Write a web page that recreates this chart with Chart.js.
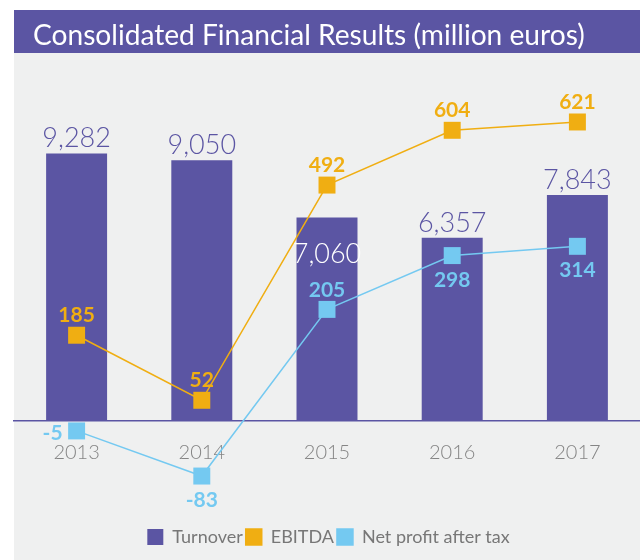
<!DOCTYPE html>
<html><head><meta charset="utf-8">
<script src="https://cdn.jsdelivr.net/npm/chart.js@4.4.1/dist/chart.umd.min.js"></script>
<style>html,body{margin:0;padding:0;background:#fff}#wrap{width:640px;height:560px;position:relative}canvas{display:block}</style>
</head><body><div id="wrap"><canvas id="c" width="640" height="560"></canvas></div>
<script>
const chartTitle = 'Consolidated Financial Results (million euros)';
const years = ['2013', '2014', '2015', '2016', '2017'];
const seriesNames = ['Turnover', 'EBITDA', 'Net profit after tax'];
const turnover = [9282, 9050, 7060, 6357, 7843];
const ebitda = [185, 52, 492, 604, 621];
const netProfit = [-5, -83, 205, 298, 314];

const PURPLE = '#5B55A3';
const ORANGE = '#F0AE12';
const BLUE = '#74C9F1';
const BG = '#EFF0F0';
const FONT = 'Lato, "Open Sans", sans-serif';

function fmt(v) { return String(v).replace(/\B(?=(\d{3})+(?!\d))/g, ','); }

// label placement styles (not data)
const barLabelInside = [false, false, true, false, false];
const netLabelPos = ['left', 'below', 'above', 'below', 'below'];

const backgroundPlugin = {
  id: 'bgTitle',
  beforeDraw(chart) {
    const ctx = chart.ctx;
    ctx.save();
    ctx.fillStyle = '#ffffff';
    ctx.fillRect(0, 0, chart.width, chart.height);
    ctx.fillStyle = BG;
    ctx.fillRect(14, 53, chart.width - 14, chart.height - 53);
    ctx.fillStyle = PURPLE;
    ctx.fillRect(14, 10, chart.width - 14, 43);
    let size = 28;
    ctx.font = size + 'px ' + FONT;
    const w = ctx.measureText(chartTitle).width;
    size = Math.min(32, size * 552 / w);
    ctx.font = size + 'px ' + FONT;
    ctx.fillStyle = '#ffffff';
    ctx.textAlign = 'left';
    ctx.textBaseline = 'alphabetic';
    ctx.fillText(chartTitle, 33, 45);
    ctx.restore();
  }
};

const labelPlugin = {
  id: 'valueLabels',
  afterDatasetsDraw(chart) {
    const ctx = chart.ctx;
    ctx.save();
    ctx.textAlign = 'center';
    ctx.textBaseline = 'alphabetic';
    // bars
    ctx.font = '300 27px ' + FONT;
    chart.getDatasetMeta(0).data.forEach((el, i) => {
      const txt = fmt(chart.data.datasets[0].data[i]);
      if (barLabelInside[i]) {
        ctx.fillStyle = '#ffffff';
        ctx.fillText(txt, el.x, el.y + 45);
      } else {
        ctx.fillStyle = PURPLE;
        ctx.fillText(txt, el.x, el.y - 6);
      }
    });
    // EBITDA
    ctx.font = 'bold 21px ' + FONT;
    ctx.fillStyle = ORANGE;
    chart.getDatasetMeta(1).data.forEach((el, i) => {
      ctx.textAlign = 'center';
      ctx.fillText(fmt(chart.data.datasets[1].data[i]), el.x, el.y - 13);
    });
    // Net profit
    ctx.fillStyle = BLUE;
    chart.getDatasetMeta(2).data.forEach((el, i) => {
      const txt = fmt(chart.data.datasets[2].data[i]);
      const p = netLabelPos[i];
      if (p === 'left') {
        ctx.textAlign = 'right';
        ctx.fillText(txt, el.x - 14, el.y + 9);
      } else if (p === 'above') {
        ctx.textAlign = 'center';
        ctx.fillText(txt, el.x, el.y - 12);
      } else {
        ctx.textAlign = 'center';
        ctx.fillText(txt, el.x, el.y + 31);
      }
    });
    ctx.restore();
  }
};

new Chart(document.getElementById('c'), {
  data: {
    labels: years,
    datasets: [
      {
        type: 'bar', label: seriesNames[0], data: turnover, yAxisID: 'y',
        backgroundColor: PURPLE, borderWidth: 0,
        barPercentage: 0.487, categoryPercentage: 1, order: 3
      },
      {
        type: 'line', label: seriesNames[1], data: ebitda, yAxisID: 'yE',
        borderColor: ORANGE, backgroundColor: ORANGE, borderWidth: 1.5,
        pointStyle: 'rect', pointRadius: 12, pointHoverRadius: 12,
        pointBackgroundColor: ORANGE, pointBorderWidth: 0, tension: 0, clip: false, order: 2
      },
      {
        type: 'line', label: seriesNames[2], data: netProfit, yAxisID: 'yN',
        borderColor: BLUE, backgroundColor: BLUE, borderWidth: 1.5,
        pointStyle: 'rect', pointRadius: 12, pointHoverRadius: 12,
        pointBackgroundColor: BLUE, pointBorderWidth: 0, tension: 0, clip: false, order: 1
      }
    ]
  },
  options: {
    responsive: false,
    animation: false,
    devicePixelRatio: 1,
    layout: { autoPadding: false, padding: { top: 0, left: 14, right: -3, bottom: 4 } },
    scales: {
      x: {
        type: 'category',
        position: { y: 0 },
        grid: { display: false, drawTicks: false },
        border: { display: true, color: PURPLE, width: 1.5 },
        ticks: { color: '#858585', font: { family: FONT, size: 20, weight: '300' }, padding: 20, maxRotation: 0 },
        afterFit(scale) { scale.paddingLeft = 0; scale.paddingRight = 0; scale.paddingTop = 0; scale.paddingBottom = 0; }
      },
      y: { display: false, min: -3609, max: 14608 },
      yE: { display: false, min: -203.0, max: 870.4 },
      yN: { display: false, min: -167.6, max: 739.7 }
    },
    plugins: {
      legend: {
        position: 'bottom',
        labels: {
          color: '#777777',
          font: { family: FONT, size: 18 },
          boxWidth: 16, boxHeight: 16, padding: 3,
          sort: (a, b) => a.datasetIndex - b.datasetIndex
        }
      },
      title: { display: false },
      tooltip: { enabled: false }
    }
  },
  plugins: [backgroundPlugin, labelPlugin]
});
</script>
</body></html>
